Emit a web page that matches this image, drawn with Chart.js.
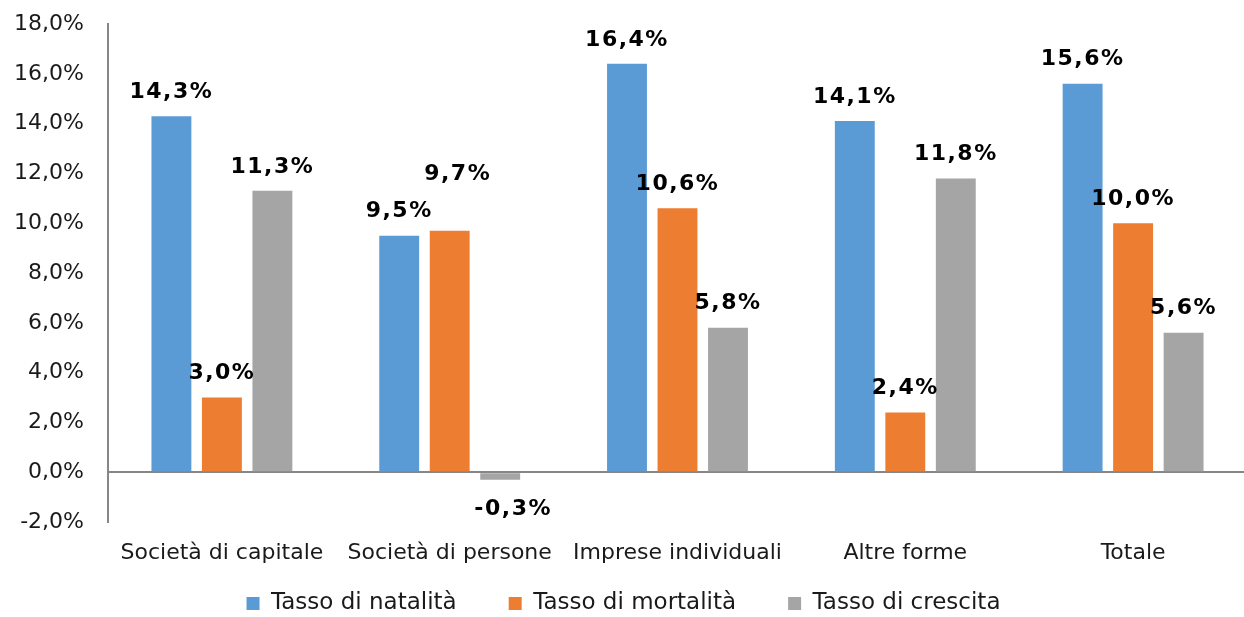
<!DOCTYPE html>
<html>
<head>
<meta charset="utf-8">
<script src="https://cdn.jsdelivr.net/npm/chart.js@4"></script>
<style>
  html, body { margin: 0; padding: 0; background: #fff; overflow: hidden; }
  /* canvas a bit taller than the window, legend gets pulled up below */
  #wrap { width: 1248px; height: 655px; position: relative; }
</style>
</head>
<body>
<div id="wrap"><canvas id="chart"></canvas></div>
<script>
// categories + series
const categories = ["Società di capitale", "Società di persone", "Imprese individuali", "Altre forme", "Totale"];
const natalita = [14.3, 9.5, 16.4, 14.1, 15.6];
const mortalita = [3.0, 9.7, 10.6, 2.4, 10.0];
const crescita = [11.3, -0.3, 5.8, 11.8, 5.6];
const seriesNames = ["Tasso di natalità", "Tasso di mortalità", "Tasso di crescita"];
const yTicks = { min: -2, max: 18, step: 2 };

const FONT = "'DejaVu Sans', Verdana, sans-serif";
const AXIS = "#868686";

function pct(v) {
  return Number(v).toFixed(1).replace(".", ",") + "%";
}

// a couple of labels were moved by hand in the original, keep that
const labelNudge = { "1,1": [8, -32], "2,1": [13, 0] };

const barLabels = {
  id: "barLabels",
  afterDatasetsDraw(chart) {
    const ctx = chart.ctx;
    ctx.save();
    ctx.font = "bold 22px " + FONT;
    ctx.letterSpacing = "1.5px";
    ctx.fillStyle = "#000";
    ctx.textAlign = "center";
    ctx.textBaseline = "middle";
    chart.data.datasets.forEach((ds, di) => {
      const meta = chart.getDatasetMeta(di);
      meta.data.forEach((bar, i) => {
        const v = ds.data[i];
        const n = labelNudge[di + "," + i] || [0, 0];
        const y = v >= 0 ? bar.y - 24 : bar.y + 30;
        ctx.fillText(pct(v), bar.x + n[0], y + n[1]);
      });
    });
    ctx.restore();
  }
};

// legend padding is wide for the gaps between items; pull it closer to the axis
const legendLift = {
  id: "legendLift",
  afterLayout(chart) {
    const lg = chart.legend;
    if (!lg) return;
    lg.top -= 30;
    lg.bottom -= 30;
  }
};

new Chart(document.getElementById("chart"), {
  type: "bar",
  data: {
    labels: categories,
    datasets: [
      { label: seriesNames[0], data: natalita, backgroundColor: "#5B9BD5" },
      { label: seriesNames[1], data: mortalita, backgroundColor: "#ED7D31" },
      { label: seriesNames[2], data: crescita, backgroundColor: "#A5A5A5" },
    ],
  },
  options: {
    responsive: true,
    maintainAspectRatio: false,
    animation: false,
    datasets: { bar: { categoryPercentage: 0.665, barPercentage: 0.79 } },
    layout: { padding: { top: 24, right: 1, bottom: 0, left: 0 } },
    plugins: {
      tooltip: { enabled: false },
      legend: {
        position: "bottom",
        labels: {
          font: { family: FONT, size: 23 },
          color: "#1a1a1a",
          boxWidth: 13,
          boxHeight: 13,
          padding: 52,
        },
      },
    },
    scales: {
      x: {
        grid: { display: false, drawTicks: false },
        border: { display: false },
        ticks: { font: { family: FONT, size: 22 }, color: "#1a1a1a", padding: 18, maxRotation: 0 },
        afterFit: (s) => { s.height = 48; },
      },
      y: {
        min: yTicks.min,
        max: yTicks.max,
        ticks: {
          stepSize: yTicks.step,
          font: { family: FONT, size: 22 },
          color: "#1a1a1a",
          padding: 24,
          callback: (v) => pct(v),
        },
        grid: {
          drawTicks: false,
          color: (c) => (c.tick && c.tick.value === 0 ? AXIS : "transparent"),
          lineWidth: 2,
        },
        border: { display: true, color: AXIS, width: 2 },
        afterFit: (s) => {
          s.width = 108;
          s.paddingTop = 0;
          s.paddingBottom = 0;
        },
      },
    },
  },
  plugins: [barLabels, legendLift],
});
</script>
</body>
</html>
